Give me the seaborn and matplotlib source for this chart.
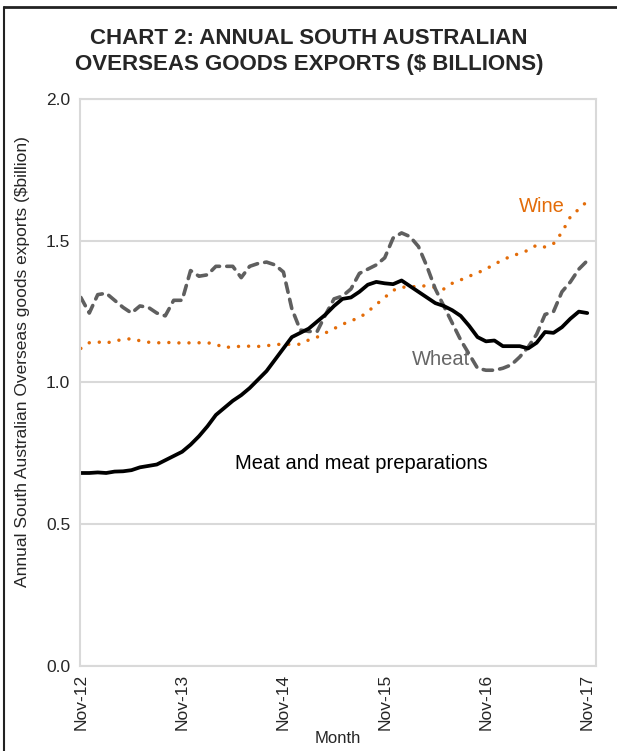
import numpy as np
import pandas as pd
import seaborn as sns
import matplotlib.pyplot as plt
from matplotlib.lines import Line2D

# monthly values, Nov-12 .. Nov-17 ($ billion)
meat = [0.68, 0.68, 0.682, 0.68, 0.685, 0.686, 0.69, 0.70, 0.705, 0.71,
        0.725, 0.74, 0.755, 0.78, 0.81, 0.845, 0.885, 0.91, 0.935, 0.955,
        0.98, 1.01, 1.04, 1.08, 1.12, 1.16, 1.175, 1.19, 1.215, 1.24,
        1.27, 1.295, 1.30, 1.32, 1.345, 1.355, 1.35, 1.347, 1.36, 1.34,
        1.32, 1.30, 1.28, 1.27, 1.255, 1.235, 1.20, 1.16, 1.145, 1.148,
        1.128, 1.128, 1.128, 1.12, 1.14, 1.178, 1.175, 1.195, 1.225, 1.25,
        1.245]
wheat = [1.30, 1.245, 1.31, 1.315, 1.29, 1.265, 1.245, 1.27, 1.265, 1.245,
         1.235, 1.29, 1.29, 1.395, 1.375, 1.38, 1.41, 1.41, 1.41, 1.37,
         1.41, 1.42, 1.425, 1.415, 1.39, 1.26, 1.185, 1.18, 1.18, 1.24,
         1.295, 1.305, 1.33, 1.385, 1.40, 1.415, 1.44, 1.51, 1.528, 1.515,
         1.48, 1.41, 1.33, 1.27, 1.21, 1.15, 1.10, 1.05, 1.043, 1.043,
         1.05, 1.062, 1.09, 1.125, 1.17, 1.24, 1.25, 1.32, 1.355, 1.40,
         1.43]
wine = [1.12, 1.14, 1.143, 1.138, 1.148, 1.15, 1.155, 1.147, 1.142, 1.14,
        1.14, 1.142, 1.138, 1.14, 1.14, 1.14, 1.135, 1.122, 1.127, 1.127,
        1.128, 1.127, 1.13, 1.132, 1.137, 1.133, 1.135, 1.15, 1.16, 1.175,
        1.19, 1.205, 1.218, 1.228, 1.25, 1.275, 1.30, 1.325, 1.337, 1.335,
        1.342, 1.34, 1.335, 1.33, 1.35, 1.362, 1.375, 1.387, 1.40, 1.418,
        1.432, 1.447, 1.455, 1.467, 1.485, 1.478, 1.49, 1.53, 1.585, 1.612,
        1.64]
tick_labels = ['Nov-12', 'Nov-13', 'Nov-14', 'Nov-15', 'Nov-16', 'Nov-17']

months = np.arange(len(meat))
df = pd.DataFrame({'month': months, 'meat': meat, 'wheat': wheat, 'wine': wine})

sns.set_theme(style='white')
plt.rcParams['font.family'] = ['Liberation Sans', 'DejaVu Sans']

fig = plt.figure(figsize=(6.17, 7.51), dpi=100)
ax = fig.add_axes([80 / 617, 1 - 665.5 / 751, 515.7 / 617, 566.2 / 751])

grid_clr = '#d9d9d9'
orange = '#e36c09'
grey = '#5f5f5f'

sns.lineplot(data=df, x='month', y='wine', ax=ax, color=orange, lw=2.5)
ax.lines[-1].set_dashes((0.01, 2.9))
ax.lines[-1].set_dash_capstyle('round')
sns.lineplot(data=df, x='month', y='wheat', ax=ax, color=grey, lw=2.6)
ax.lines[-1].set_dashes((2.6, 2.0))
ax.lines[-1].set_dash_capstyle('round')
sns.lineplot(data=df, x='month', y='meat', ax=ax, color='black', lw=2.7)

ax.set_xlim(-0.1, 61)
ax.set_ylim(0, 2.0)
ax.set_yticks([0, 0.5, 1.0, 1.5, 2.0])
ax.set_yticklabels(['0.0', '0.5', '1.0', '1.5', '2.0'], fontsize=12.5)
ax.set_xticks(np.arange(0, 61, 12))
ax.set_xticklabels(tick_labels, rotation=90, fontsize=12.5)
ax.grid(axis='y', color=grid_clr, lw=1.5)
ax.set_axisbelow(True)
for s in ax.spines.values():
    s.set_color(grid_clr)
    s.set_linewidth(1.5)
ax.tick_params(axis='y', direction='out', length=4, width=1.5, color=grid_clr, pad=3)
ax.tick_params(axis='x', direction='inout', length=8, width=1.5, color=grid_clr, pad=2)
ax.set_xlabel('Month', fontsize=12, labelpad=1)
ax.set_ylabel('Annual South Australian Overseas goods exports ($billion)', fontsize=12.5)
ax.yaxis.set_label_coords(-0.097, 0.536)

ax.text(54.6, 1.62, 'Wine', color=orange, fontsize=14.5, ha='center', va='center')
ax.text(42.7, 1.08, 'Wheat', color='#666666', fontsize=14.5, ha='center', va='center')
ax.text(33.2, 0.715, 'Meat and meat preparations', color='black', fontsize=14.5,
        ha='center', va='center')

fig.text(309 / 617, 1 - 28 / 751,
         'CHART 2: ANNUAL SOUTH AUSTRALIAN\nOVERSEAS GOODS EXPORTS ($ BILLIONS)',
         ha='center', va='top', fontsize=16, fontweight='bold', linespacing=1.3)

# chart frame (left and top edges visible)
fig.add_artist(Line2D([4 / 617, 4 / 617], [0, 1 - 7 / 751], color='#222222', lw=1.5))
fig.add_artist(Line2D([4 / 617, 1], [1 - 7 / 751, 1 - 7 / 751], color='#222222', lw=2))

fig.savefig('out.png', dpi=100)
